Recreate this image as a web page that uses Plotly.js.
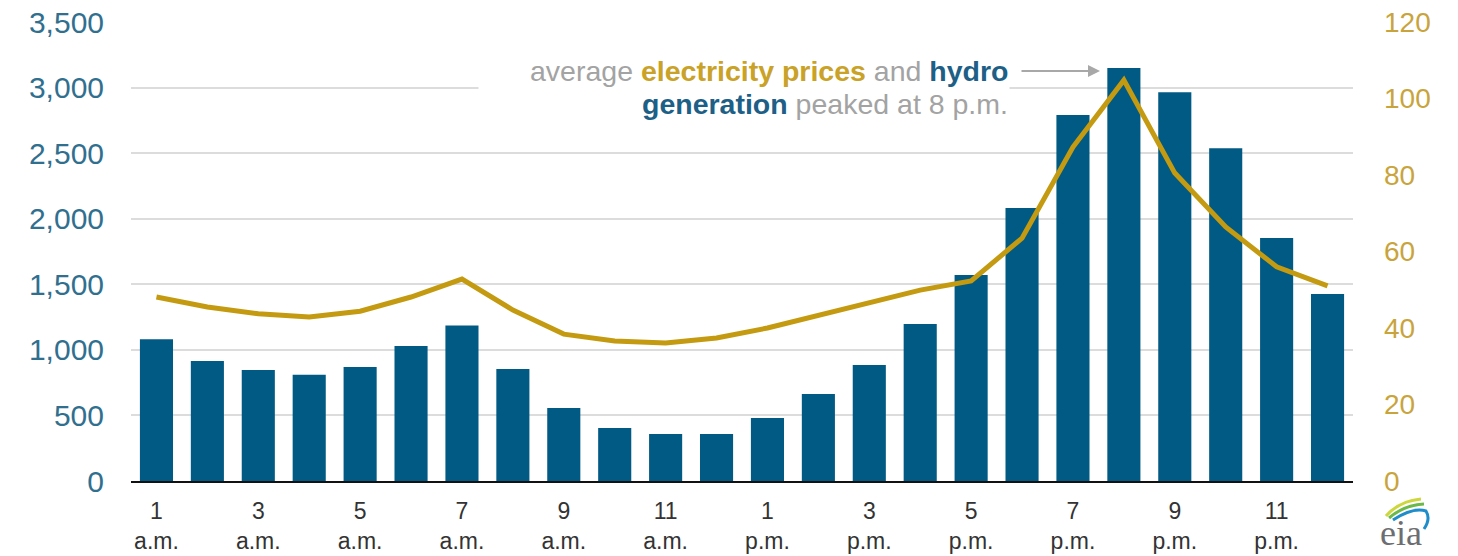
<!DOCTYPE html>
<html>
<head>
<meta charset="utf-8">
<script src="https://cdn.plot.ly/plotly-3.0.1.min.js"></script>
<style>html,body{margin:0;padding:0;background:#fff;}#chart{width:1458px;height:556px;}</style>
</head>
<body>
<div id="chart"></div>
<script>
// Hours of the day (1 = 1 a.m. ... 24 = midnight)
const hours = [1,2,3,4,5,6,7,8,9,10,11,12,13,14,15,16,17,18,19,20,21,22,23,24];
// Hydro generation (left axis, megawatts)
const hydroGeneration = [1080,915,846,810,869,1030,1185,854,556,404,358,358,480,663,884,1197,1570,2081,2790,3150,2965,2538,1852,1425];
// Average electricity prices (right axis, $/MWh)
const electricityPrices = [48.1,45.5,43.7,42.9,44.4,48.1,52.8,44.7,38.4,36.6,36.1,37.4,40.0,43.4,46.8,49.9,52.3,63.5,87.3,104.8,80.5,66.4,56.0,51.0];
// Tick labels
const tickHours = [1,3,5,7,9,11,13,15,17,19,21,23];
const tickLabels = ['1<br>a.m.','3<br>a.m.','5<br>a.m.','7<br>a.m.','9<br>a.m.','11<br>a.m.','1<br>p.m.','3<br>p.m.','5<br>p.m.','7<br>p.m.','9<br>p.m.','11<br>p.m.'];
const leftTicks = [0,500,1000,1500,2000,2500,3000,3500];
const leftTickText = ['0','500','1,000','1,500','2,000','2,500','3,000','3,500'];
const rightTicks = [0,20,40,60,80,100,120];

const W = 1458, H = 556, L = 131, R = 105, T = 22, B = 75;
const pw = W - L - R, ph = H - T - B;
const px = x => (x - L) / pw;
const py = y => (H - B - y) / ph;
function path(pts) {
  return pts.map(p => (p[0] + ' ' + px(p[1]).toFixed(4) + ',' + py(p[2]).toFixed(4))).join(' ');
}

const BLUE = '#005a84';
const GOLD = '#c49a10';
const FONT = 'Liberation Sans, Arial, sans-serif';

const traces = [
  {
    type: 'bar', x: hours, y: hydroGeneration, marker: {color: BLUE},
    yaxis: 'y', hoverinfo: 'skip'
  },
  {
    type: 'scatter', mode: 'lines', x: hours, y: electricityPrices,
    yaxis: 'y2', line: {color: GOLD, width: 5}, hoverinfo: 'skip'
  }
];

const layout = {
  width: W, height: H,
  margin: {l: L, r: R, t: T, b: B, pad: 0},
  paper_bgcolor: '#fff', plot_bgcolor: 'rgba(0,0,0,0)',
  showlegend: false,
  bargap: 0.35,
  font: {family: FONT},
  xaxis: {
    range: [0.5, 24.5], tickvals: tickHours, ticktext: tickLabels,
    tickfont: {size: 23, color: '#333', family: FONT},
    showgrid: false, zeroline: false, ticks: '',
    showline: true, linecolor: '#111', linewidth: 2,
    ticklabelstandoff: 8, fixedrange: true
  },
  yaxis: {
    range: [0, 3500], tickvals: leftTicks, ticktext: leftTickText,
    tickfont: {size: 30, color: '#316f8f', family: FONT},
    showgrid: true, gridcolor: '#dcdcdc', gridwidth: 2,
    zeroline: false, ticks: '', ticklabelstandoff: 26, showline: false
  },
  yaxis2: {
    range: [0, 120], tickvals: rightTicks, overlaying: 'y', side: 'right',
    tickfont: {size: 28, color: '#c9a43c', family: FONT},
    showgrid: false, zeroline: false, ticks: '', ticklabelstandoff: 30, showline: false
  },
  annotations: [
    {
      xref: 'paper', yref: 'paper', x: px(1010), y: py(88), xanchor: 'right', yanchor: 'middle',
      showarrow: false, bgcolor: '#fff', borderpad: 0,
      font: {size: 10, color: '#fff', family: FONT},
      text: '&nbsp;', width: 530, height: 30
    },
    {
      xref: 'paper', yref: 'paper', x: px(1010), y: py(71), xanchor: 'right', yanchor: 'middle',
      align: 'right', showarrow: false,
      font: {size: 28.5, color: '#a3a3a3', family: FONT},
      text: 'average <b><span style="color:#c9a227">electricity prices</span></b> and <b><span style="color:#1d5f86">hydro</span></b>'
    },
    {
      xref: 'paper', yref: 'paper', x: px(1010), y: py(104), xanchor: 'right', yanchor: 'middle',
      align: 'right', showarrow: false,
      font: {size: 28.5, color: '#a3a3a3', family: FONT},
      text: '<b><span style="color:#1d5f86">generation</span></b> peaked at 8 p.m.'
    },
    {
      xref: 'paper', yref: 'paper', x: px(1100), y: py(71), ax: -80, ay: 0,
      text: '', showarrow: true, arrowhead: 2, arrowsize: 1.2, arrowwidth: 2, arrowcolor: '#a8a8a8'
    },
    {
      xref: 'paper', yref: 'paper', x: px(1401), y: py(533), xanchor: 'center', yanchor: 'middle',
      showarrow: false, text: 'eia', font: {size: 36, color: '#6d6e71', family: 'Liberation Serif, DejaVu Serif, serif'}
    }
  ],
  shapes: [
    {type: 'path', xref: 'paper', yref: 'paper', path: path([['M',1386,516],['Q',1399,501],['',1421,499]]), line: {color: '#cdd63a', width: 3}},
    {type: 'path', xref: 'paper', yref: 'paper', path: path([['M',1389,518],['Q',1404,505],['',1424,504]]), line: {color: '#6cb94a', width: 3}},
    {type: 'path', xref: 'paper', yref: 'paper', path: path([['M',1393,520],['Q',1413,507],['',1426,511],['Q',1431,519],['',1424,529]]), line: {color: '#1f8dc9', width: 3}}
  ]
};

Plotly.newPlot('chart', traces, layout, {staticPlot: true, displayModeBar: false});
</script>
</body>
</html>
